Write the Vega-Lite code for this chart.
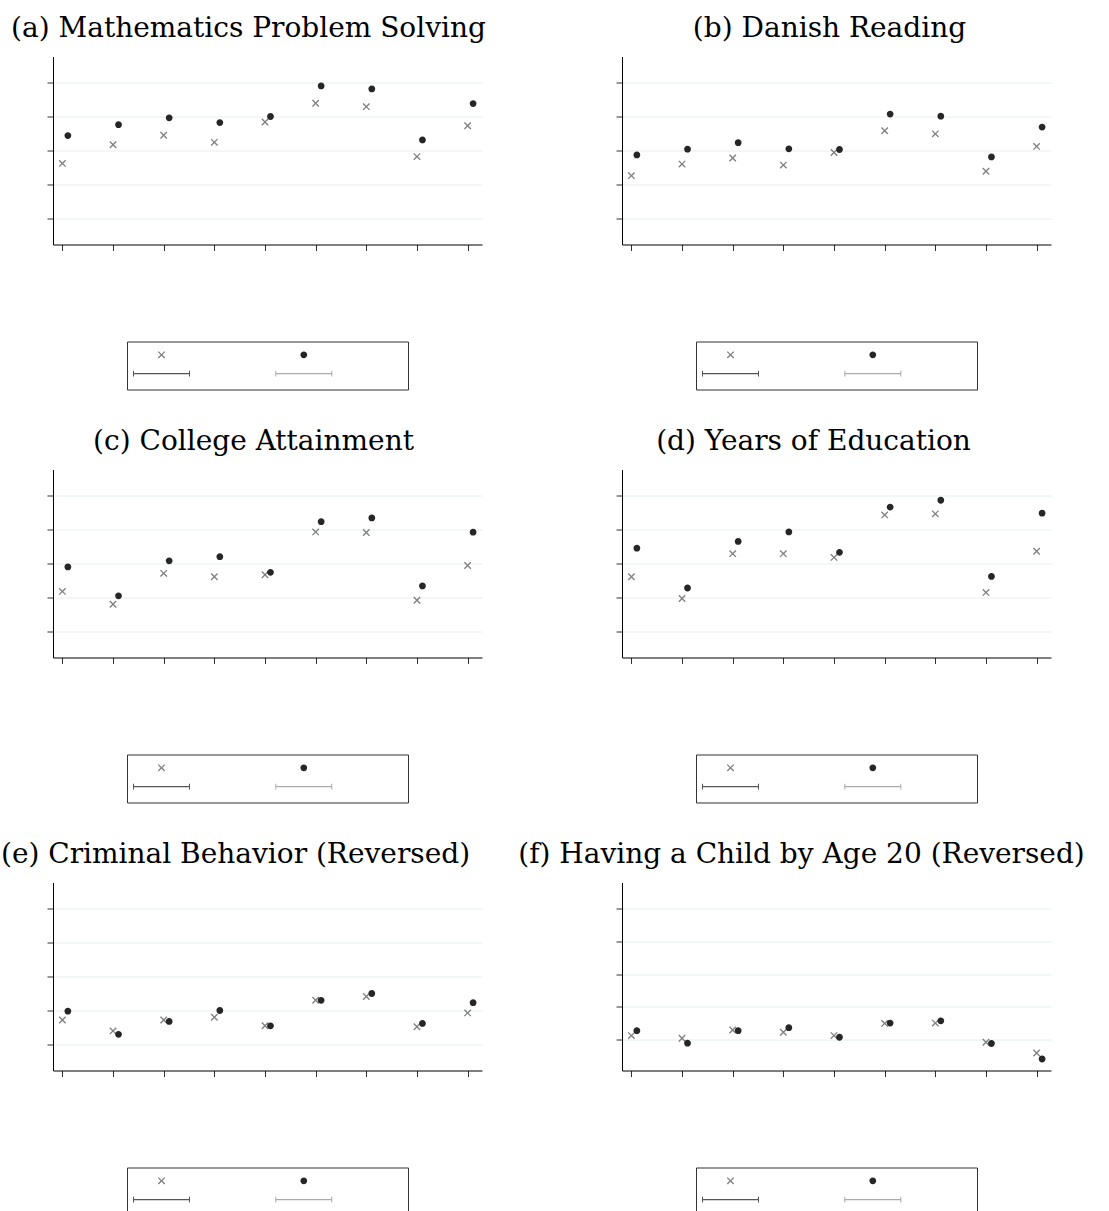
{
  "$schema": "https://vega.github.io/schema/vega-lite/v6.json",
  "padding": {"left": 0, "top": 14.5, "right": 0, "bottom": 0},
  "background": "white",
  "data": {"values": [
    {"panel":"a","group":1,"series":"Series 1","value":1.62},{"panel":"a","group":2,"series":"Series 1","value":2.17},{"panel":"a","group":3,"series":"Series 1","value":2.45},{"panel":"a","group":4,"series":"Series 1","value":2.24},{"panel":"a","group":5,"series":"Series 1","value":2.84},{"panel":"a","group":6,"series":"Series 1","value":3.39},{"panel":"a","group":7,"series":"Series 1","value":3.29},{"panel":"a","group":8,"series":"Series 1","value":1.82},{"panel":"a","group":9,"series":"Series 1","value":2.73},
    {"panel":"a","group":1,"series":"Series 2","value":2.44},{"panel":"a","group":2,"series":"Series 2","value":2.76},{"panel":"a","group":3,"series":"Series 2","value":2.96},{"panel":"a","group":4,"series":"Series 2","value":2.82},{"panel":"a","group":5,"series":"Series 2","value":3.00},{"panel":"a","group":6,"series":"Series 2","value":3.90},{"panel":"a","group":7,"series":"Series 2","value":3.81},{"panel":"a","group":8,"series":"Series 2","value":2.31},{"panel":"a","group":9,"series":"Series 2","value":3.38},
    {"panel":"b","group":1,"series":"Series 1","value":1.26},{"panel":"b","group":2,"series":"Series 1","value":1.60},{"panel":"b","group":3,"series":"Series 1","value":1.78},{"panel":"b","group":4,"series":"Series 1","value":1.57},{"panel":"b","group":5,"series":"Series 1","value":1.94},{"panel":"b","group":6,"series":"Series 1","value":2.58},{"panel":"b","group":7,"series":"Series 1","value":2.49},{"panel":"b","group":8,"series":"Series 1","value":1.39},{"panel":"b","group":9,"series":"Series 1","value":2.12},
    {"panel":"b","group":1,"series":"Series 2","value":1.87},{"panel":"b","group":2,"series":"Series 2","value":2.04},{"panel":"b","group":3,"series":"Series 2","value":2.23},{"panel":"b","group":4,"series":"Series 2","value":2.05},{"panel":"b","group":5,"series":"Series 2","value":2.03},{"panel":"b","group":6,"series":"Series 2","value":3.07},{"panel":"b","group":7,"series":"Series 2","value":3.01},{"panel":"b","group":8,"series":"Series 2","value":1.81},{"panel":"b","group":9,"series":"Series 2","value":2.69},
    {"panel":"c","group":1,"series":"Series 1","value":1.18},{"panel":"c","group":2,"series":"Series 1","value":0.80},{"panel":"c","group":3,"series":"Series 1","value":1.71},{"panel":"c","group":4,"series":"Series 1","value":1.61},{"panel":"c","group":5,"series":"Series 1","value":1.67},{"panel":"c","group":6,"series":"Series 1","value":2.93},{"panel":"c","group":7,"series":"Series 1","value":2.91},{"panel":"c","group":8,"series":"Series 1","value":0.92},{"panel":"c","group":9,"series":"Series 1","value":1.94},
    {"panel":"c","group":1,"series":"Series 2","value":1.90},{"panel":"c","group":2,"series":"Series 2","value":1.05},{"panel":"c","group":3,"series":"Series 2","value":2.08},{"panel":"c","group":4,"series":"Series 2","value":2.20},{"panel":"c","group":5,"series":"Series 2","value":1.74},{"panel":"c","group":6,"series":"Series 2","value":3.23},{"panel":"c","group":7,"series":"Series 2","value":3.34},{"panel":"c","group":8,"series":"Series 2","value":1.34},{"panel":"c","group":9,"series":"Series 2","value":2.92},
    {"panel":"d","group":1,"series":"Series 1","value":1.61},{"panel":"d","group":2,"series":"Series 1","value":0.97},{"panel":"d","group":3,"series":"Series 1","value":2.29},{"panel":"d","group":4,"series":"Series 1","value":2.29},{"panel":"d","group":5,"series":"Series 1","value":2.18},{"panel":"d","group":6,"series":"Series 1","value":3.43},{"panel":"d","group":7,"series":"Series 1","value":3.46},{"panel":"d","group":8,"series":"Series 1","value":1.15},{"panel":"d","group":9,"series":"Series 1","value":2.36},
    {"panel":"d","group":1,"series":"Series 2","value":2.45},{"panel":"d","group":2,"series":"Series 2","value":1.28},{"panel":"d","group":3,"series":"Series 2","value":2.65},{"panel":"d","group":4,"series":"Series 2","value":2.93},{"panel":"d","group":5,"series":"Series 2","value":2.33},{"panel":"d","group":6,"series":"Series 2","value":3.66},{"panel":"d","group":7,"series":"Series 2","value":3.86},{"panel":"d","group":8,"series":"Series 2","value":1.62},{"panel":"d","group":9,"series":"Series 2","value":3.48},
    {"panel":"e","group":1,"series":"Series 1","value":0.72},{"panel":"e","group":2,"series":"Series 1","value":0.40},{"panel":"e","group":3,"series":"Series 1","value":0.72},{"panel":"e","group":4,"series":"Series 1","value":0.80},{"panel":"e","group":5,"series":"Series 1","value":0.55},{"panel":"e","group":6,"series":"Series 1","value":1.30},{"panel":"e","group":7,"series":"Series 1","value":1.41},{"panel":"e","group":8,"series":"Series 1","value":0.52},{"panel":"e","group":9,"series":"Series 1","value":0.93},
    {"panel":"e","group":1,"series":"Series 2","value":0.98},{"panel":"e","group":2,"series":"Series 2","value":0.30},{"panel":"e","group":3,"series":"Series 2","value":0.68},{"panel":"e","group":4,"series":"Series 2","value":1.00},{"panel":"e","group":5,"series":"Series 2","value":0.55},{"panel":"e","group":6,"series":"Series 2","value":1.30},{"panel":"e","group":7,"series":"Series 2","value":1.50},{"panel":"e","group":8,"series":"Series 2","value":0.62},{"panel":"e","group":9,"series":"Series 2","value":1.23},
    {"panel":"f","group":1,"series":"Series 1","value":0.13},{"panel":"f","group":2,"series":"Series 1","value":0.05},{"panel":"f","group":3,"series":"Series 1","value":0.30},{"panel":"f","group":4,"series":"Series 1","value":0.23},{"panel":"f","group":5,"series":"Series 1","value":0.13},{"panel":"f","group":6,"series":"Series 1","value":0.50},{"panel":"f","group":7,"series":"Series 1","value":0.51},{"panel":"f","group":8,"series":"Series 1","value":-0.07},{"panel":"f","group":9,"series":"Series 1","value":-0.40},
    {"panel":"f","group":1,"series":"Series 2","value":0.28},{"panel":"f","group":2,"series":"Series 2","value":-0.10},{"panel":"f","group":3,"series":"Series 2","value":0.28},{"panel":"f","group":4,"series":"Series 2","value":0.37},{"panel":"f","group":5,"series":"Series 2","value":0.08},{"panel":"f","group":6,"series":"Series 2","value":0.51},{"panel":"f","group":7,"series":"Series 2","value":0.58},{"panel":"f","group":8,"series":"Series 2","value":-0.11},{"panel":"f","group":9,"series":"Series 2","value":-0.58}
  ]},
  "config": {
    "view": {"stroke": null},
    "axis": {"labels": false, "domainColor": "#000000", "domainWidth": 1, "tickColor": "#333333", "tickSize": 6, "tickWidth": 1, "gridColor": "#e6eef0", "gridWidth": 1},
    "title": {"font": "DejaVu Serif", "fontSize": 28, "fontWeight": "normal", "color": "#000000", "offset": 14, "anchor": "middle"},
    "legend": {"orient": "bottom", "columns": 2, "symbolSize": 4, "symbolStrokeWidth": 0, "symbolOffset": 21.2, "labelFontSize": 14.6, "labelOffset": 90.2, "columnPadding": 16.3, "rowPadding": 3.8, "padding": 6, "strokeColor": "#333333", "offset": 90, "symbolOpacity": 1, "layout": {"bottom": {"anchor": "middle"}}}
  },
  "spacing": 413,
  "bounds": "flush",
  "resolve": {"scale": {"color": "independent", "shape": "independent"}},
  "vconcat": [
    {"hconcat": [
      {"title": {"text": "(a) Mathematics Problem Solving", "dx": -19}, "width": 429, "height": 188,
       "transform": [{"filter": "datum.panel == 'a'"}],
       "encoding": {
         "x": {"field": "group", "type": "quantitative", "scale": {"domain": [0.815, 9.284], "nice": false, "zero": false}, "axis": {"title": null, "values": [1,2,3,4,5,6,7,8,9], "grid": false}},
         "y": {"field": "value", "type": "quantitative", "scale": {"domain": [-0.765, 4.765], "nice": false, "zero": false}, "axis": {"title": null, "values": [0,1,2,3,4], "grid": true}},
         "shape": {"field": "series", "type": "nominal", "scale": {"domain": ["Series 1","Series 2","CI 1","CI 2"], "range": ["M-3.7,-2.75L-2.75,-3.7L0,-0.95L2.75,-3.7L3.7,-2.75L0.95,0L3.7,2.75L2.75,3.7L0,0.95L-2.75,3.7L-3.7,2.75L-0.95,0ZM-28.5,0L-28.5,0M28.5,0L28.5,0","M3.4,0A3.4,3.4,0,1,1,-3.4,0A3.4,3.4,0,1,1,3.4,0ZM-28.5,0L-28.5,0M28.5,0L28.5,0","M-28.5,-2.85L-27.5,-2.85L-27.5,-0.55L27.5,-0.55L27.5,-2.85L28.5,-2.85L28.5,2.85L27.5,2.85L27.5,0.55L-27.5,0.55L-27.5,2.85L-28.5,2.85ZM0,9L0,9","M-28.5,-2.85L-27.5,-2.85L-27.5,-0.55L27.5,-0.55L27.5,-2.85L28.5,-2.85L28.5,2.85L27.5,2.85L27.5,0.55L-27.5,0.55L-27.5,2.85L-28.5,2.85ZM0,9L0,9"]}, "legend": {"title": null, "labelExpr": "''"}},
         "color": {"field": "series", "type": "nominal", "scale": {"domain": ["Series 1","Series 2","CI 1","CI 2"], "range": ["#808080","#262626","#555555","#aaaaaa"]}, "legend": {"title": null, "labelExpr": "''"}}
       },
       "layer": [
         {"transform": [{"filter": "datum.series == 'Series 1'"}], "mark": {"type": "point", "filled": true, "opacity": 1, "size": 4}},
         {"transform": [{"filter": "datum.series == 'Series 2'"}], "mark": {"type": "point", "filled": true, "opacity": 1, "size": 4, "xOffset": 5.5}}
       ]},
      {"title": {"text": "(b) Danish Reading", "dx": -7}, "width": 429, "height": 188,
       "transform": [{"filter": "datum.panel == 'b'"}],
       "encoding": {
         "x": {"field": "group", "type": "quantitative", "scale": {"domain": [0.815, 9.284], "nice": false, "zero": false}, "axis": {"title": null, "values": [1,2,3,4,5,6,7,8,9], "grid": false}},
         "y": {"field": "value", "type": "quantitative", "scale": {"domain": [-0.765, 4.765], "nice": false, "zero": false}, "axis": {"title": null, "values": [0,1,2,3,4], "grid": true}},
         "shape": {"field": "series", "type": "nominal", "scale": {"domain": ["Series 1","Series 2","CI 1","CI 2"], "range": ["M-3.7,-2.75L-2.75,-3.7L0,-0.95L2.75,-3.7L3.7,-2.75L0.95,0L3.7,2.75L2.75,3.7L0,0.95L-2.75,3.7L-3.7,2.75L-0.95,0ZM-28.5,0L-28.5,0M28.5,0L28.5,0","M3.4,0A3.4,3.4,0,1,1,-3.4,0A3.4,3.4,0,1,1,3.4,0ZM-28.5,0L-28.5,0M28.5,0L28.5,0","M-28.5,-2.85L-27.5,-2.85L-27.5,-0.55L27.5,-0.55L27.5,-2.85L28.5,-2.85L28.5,2.85L27.5,2.85L27.5,0.55L-27.5,0.55L-27.5,2.85L-28.5,2.85ZM0,9L0,9","M-28.5,-2.85L-27.5,-2.85L-27.5,-0.55L27.5,-0.55L27.5,-2.85L28.5,-2.85L28.5,2.85L27.5,2.85L27.5,0.55L-27.5,0.55L-27.5,2.85L-28.5,2.85ZM0,9L0,9"]}, "legend": {"title": null, "labelExpr": "''"}},
         "color": {"field": "series", "type": "nominal", "scale": {"domain": ["Series 1","Series 2","CI 1","CI 2"], "range": ["#808080","#262626","#555555","#aaaaaa"]}, "legend": {"title": null, "labelExpr": "''"}}
       },
       "layer": [
         {"transform": [{"filter": "datum.series == 'Series 1'"}], "mark": {"type": "point", "filled": true, "opacity": 1, "size": 4}},
         {"transform": [{"filter": "datum.series == 'Series 2'"}], "mark": {"type": "point", "filled": true, "opacity": 1, "size": 4, "xOffset": 5.5}}
       ]}
    ], "spacing": 140, "bounds": "flush", "resolve": {"scale": {"color": "independent", "shape": "independent"}}},
    {"hconcat": [
      {"title": {"text": "(c) College Attainment", "dx": -14}, "width": 429, "height": 188,
       "transform": [{"filter": "datum.panel == 'c'"}],
       "encoding": {
         "x": {"field": "group", "type": "quantitative", "scale": {"domain": [0.815, 9.284], "nice": false, "zero": false}, "axis": {"title": null, "values": [1,2,3,4,5,6,7,8,9], "grid": false}},
         "y": {"field": "value", "type": "quantitative", "scale": {"domain": [-0.765, 4.765], "nice": false, "zero": false}, "axis": {"title": null, "values": [0,1,2,3,4], "grid": true}},
         "shape": {"field": "series", "type": "nominal", "scale": {"domain": ["Series 1","Series 2","CI 1","CI 2"], "range": ["M-3.7,-2.75L-2.75,-3.7L0,-0.95L2.75,-3.7L3.7,-2.75L0.95,0L3.7,2.75L2.75,3.7L0,0.95L-2.75,3.7L-3.7,2.75L-0.95,0ZM-28.5,0L-28.5,0M28.5,0L28.5,0","M3.4,0A3.4,3.4,0,1,1,-3.4,0A3.4,3.4,0,1,1,3.4,0ZM-28.5,0L-28.5,0M28.5,0L28.5,0","M-28.5,-2.85L-27.5,-2.85L-27.5,-0.55L27.5,-0.55L27.5,-2.85L28.5,-2.85L28.5,2.85L27.5,2.85L27.5,0.55L-27.5,0.55L-27.5,2.85L-28.5,2.85ZM0,9L0,9","M-28.5,-2.85L-27.5,-2.85L-27.5,-0.55L27.5,-0.55L27.5,-2.85L28.5,-2.85L28.5,2.85L27.5,2.85L27.5,0.55L-27.5,0.55L-27.5,2.85L-28.5,2.85ZM0,9L0,9"]}, "legend": {"title": null, "labelExpr": "''"}},
         "color": {"field": "series", "type": "nominal", "scale": {"domain": ["Series 1","Series 2","CI 1","CI 2"], "range": ["#808080","#262626","#555555","#aaaaaa"]}, "legend": {"title": null, "labelExpr": "''"}}
       },
       "layer": [
         {"transform": [{"filter": "datum.series == 'Series 1'"}], "mark": {"type": "point", "filled": true, "opacity": 1, "size": 4}},
         {"transform": [{"filter": "datum.series == 'Series 2'"}], "mark": {"type": "point", "filled": true, "opacity": 1, "size": 4, "xOffset": 5.5}}
       ]},
      {"title": {"text": "(d) Years of Education", "dx": -23}, "width": 429, "height": 188,
       "transform": [{"filter": "datum.panel == 'd'"}],
       "encoding": {
         "x": {"field": "group", "type": "quantitative", "scale": {"domain": [0.815, 9.284], "nice": false, "zero": false}, "axis": {"title": null, "values": [1,2,3,4,5,6,7,8,9], "grid": false}},
         "y": {"field": "value", "type": "quantitative", "scale": {"domain": [-0.765, 4.765], "nice": false, "zero": false}, "axis": {"title": null, "values": [0,1,2,3,4], "grid": true}},
         "shape": {"field": "series", "type": "nominal", "scale": {"domain": ["Series 1","Series 2","CI 1","CI 2"], "range": ["M-3.7,-2.75L-2.75,-3.7L0,-0.95L2.75,-3.7L3.7,-2.75L0.95,0L3.7,2.75L2.75,3.7L0,0.95L-2.75,3.7L-3.7,2.75L-0.95,0ZM-28.5,0L-28.5,0M28.5,0L28.5,0","M3.4,0A3.4,3.4,0,1,1,-3.4,0A3.4,3.4,0,1,1,3.4,0ZM-28.5,0L-28.5,0M28.5,0L28.5,0","M-28.5,-2.85L-27.5,-2.85L-27.5,-0.55L27.5,-0.55L27.5,-2.85L28.5,-2.85L28.5,2.85L27.5,2.85L27.5,0.55L-27.5,0.55L-27.5,2.85L-28.5,2.85ZM0,9L0,9","M-28.5,-2.85L-27.5,-2.85L-27.5,-0.55L27.5,-0.55L27.5,-2.85L28.5,-2.85L28.5,2.85L27.5,2.85L27.5,0.55L-27.5,0.55L-27.5,2.85L-28.5,2.85ZM0,9L0,9"]}, "legend": {"title": null, "labelExpr": "''"}},
         "color": {"field": "series", "type": "nominal", "scale": {"domain": ["Series 1","Series 2","CI 1","CI 2"], "range": ["#808080","#262626","#555555","#aaaaaa"]}, "legend": {"title": null, "labelExpr": "''"}}
       },
       "layer": [
         {"transform": [{"filter": "datum.series == 'Series 1'"}], "mark": {"type": "point", "filled": true, "opacity": 1, "size": 4}},
         {"transform": [{"filter": "datum.series == 'Series 2'"}], "mark": {"type": "point", "filled": true, "opacity": 1, "size": 4, "xOffset": 5.5}}
       ]}
    ], "spacing": 140, "bounds": "flush", "resolve": {"scale": {"color": "independent", "shape": "independent"}}},
    {"hconcat": [
      {"title": {"text": "(e) Criminal Behavior (Reversed)", "dx": -32}, "width": 429, "height": 188,
       "transform": [{"filter": "datum.panel == 'e'"}],
       "encoding": {
         "x": {"field": "group", "type": "quantitative", "scale": {"domain": [0.815, 9.284], "nice": false, "zero": false}, "axis": {"title": null, "values": [1,2,3,4,5,6,7,8,9], "grid": false}},
         "y": {"field": "value", "type": "quantitative", "scale": {"domain": [-0.765, 4.765], "nice": false, "zero": false}, "axis": {"title": null, "values": [0,1,2,3,4], "grid": true}},
         "shape": {"field": "series", "type": "nominal", "scale": {"domain": ["Series 1","Series 2","CI 1","CI 2"], "range": ["M-3.7,-2.75L-2.75,-3.7L0,-0.95L2.75,-3.7L3.7,-2.75L0.95,0L3.7,2.75L2.75,3.7L0,0.95L-2.75,3.7L-3.7,2.75L-0.95,0ZM-28.5,0L-28.5,0M28.5,0L28.5,0","M3.4,0A3.4,3.4,0,1,1,-3.4,0A3.4,3.4,0,1,1,3.4,0ZM-28.5,0L-28.5,0M28.5,0L28.5,0","M-28.5,-2.85L-27.5,-2.85L-27.5,-0.55L27.5,-0.55L27.5,-2.85L28.5,-2.85L28.5,2.85L27.5,2.85L27.5,0.55L-27.5,0.55L-27.5,2.85L-28.5,2.85ZM0,9L0,9","M-28.5,-2.85L-27.5,-2.85L-27.5,-0.55L27.5,-0.55L27.5,-2.85L28.5,-2.85L28.5,2.85L27.5,2.85L27.5,0.55L-27.5,0.55L-27.5,2.85L-28.5,2.85ZM0,9L0,9"]}, "legend": {"title": null, "labelExpr": "''"}},
         "color": {"field": "series", "type": "nominal", "scale": {"domain": ["Series 1","Series 2","CI 1","CI 2"], "range": ["#808080","#262626","#555555","#aaaaaa"]}, "legend": {"title": null, "labelExpr": "''"}}
       },
       "layer": [
         {"transform": [{"filter": "datum.series == 'Series 1'"}], "mark": {"type": "point", "filled": true, "opacity": 1, "size": 4}},
         {"transform": [{"filter": "datum.series == 'Series 2'"}], "mark": {"type": "point", "filled": true, "opacity": 1, "size": 4, "xOffset": 5.5}}
       ]},
      {"title": {"text": "(f) Having a Child by Age 20 (Reversed)", "dx": -35}, "width": 429, "height": 188,
       "transform": [{"filter": "datum.panel == 'f'"}],
       "encoding": {
         "x": {"field": "group", "type": "quantitative", "scale": {"domain": [0.815, 9.284], "nice": false, "zero": false}, "axis": {"title": null, "values": [1,2,3,4,5,6,7,8,9], "grid": false}},
         "y": {"field": "value", "type": "quantitative", "scale": {"domain": [-0.93, 4.78], "nice": false, "zero": false}, "axis": {"title": null, "values": [0,1,2,3,4], "grid": true}},
         "shape": {"field": "series", "type": "nominal", "scale": {"domain": ["Series 1","Series 2","CI 1","CI 2"], "range": ["M-3.7,-2.75L-2.75,-3.7L0,-0.95L2.75,-3.7L3.7,-2.75L0.95,0L3.7,2.75L2.75,3.7L0,0.95L-2.75,3.7L-3.7,2.75L-0.95,0ZM-28.5,0L-28.5,0M28.5,0L28.5,0","M3.4,0A3.4,3.4,0,1,1,-3.4,0A3.4,3.4,0,1,1,3.4,0ZM-28.5,0L-28.5,0M28.5,0L28.5,0","M-28.5,-2.85L-27.5,-2.85L-27.5,-0.55L27.5,-0.55L27.5,-2.85L28.5,-2.85L28.5,2.85L27.5,2.85L27.5,0.55L-27.5,0.55L-27.5,2.85L-28.5,2.85ZM0,9L0,9","M-28.5,-2.85L-27.5,-2.85L-27.5,-0.55L27.5,-0.55L27.5,-2.85L28.5,-2.85L28.5,2.85L27.5,2.85L27.5,0.55L-27.5,0.55L-27.5,2.85L-28.5,2.85ZM0,9L0,9"]}, "legend": {"title": null, "labelExpr": "''"}},
         "color": {"field": "series", "type": "nominal", "scale": {"domain": ["Series 1","Series 2","CI 1","CI 2"], "range": ["#808080","#262626","#555555","#aaaaaa"]}, "legend": {"title": null, "labelExpr": "''"}}
       },
       "layer": [
         {"transform": [{"filter": "datum.series == 'Series 1'"}], "mark": {"type": "point", "filled": true, "opacity": 1, "size": 4}},
         {"transform": [{"filter": "datum.series == 'Series 2'"}], "mark": {"type": "point", "filled": true, "opacity": 1, "size": 4, "xOffset": 5.5}}
       ]}
    ], "spacing": 140, "bounds": "flush", "resolve": {"scale": {"color": "independent", "shape": "independent"}}}
  ]
}
